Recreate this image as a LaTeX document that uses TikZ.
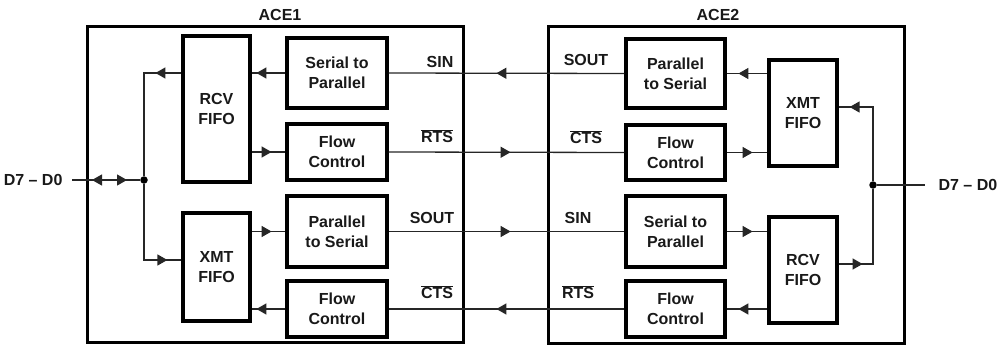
\documentclass[tikz,border=0pt]{standalone}
\usepackage{fontspec}
\setmainfont{Liberation Sans}
\usetikzlibrary{arrows.meta,decorations.markings}
\begin{document}
\begin{tikzpicture}[x=1pt,y=-1pt,
  txt/.style={font=\fontsize{16}{20}\selectfont\bfseries, text=black!90},
  blk/.style={draw, line width=3.2pt, txt, align=center, inner sep=0pt},
  ace/.style={draw, line width=3pt, inner sep=0pt},
  wire/.style={line width=1.3pt, draw=black!85},
  tri/.tip={Triangle[length=10pt,width=11pt]},
  fw/.style={postaction={decorate,decoration={markings,mark=at position #1 with {\arrow{tri}}}}},
  bw/.style={postaction={decorate,decoration={markings,mark=at position #1 with {\arrowreversed{tri}}}}},
  dot/.style={circle, fill=black, inner sep=0pt, minimum size=7.5pt}
]
\useasboundingbox (0,0) rectangle (998,345);

% ACE boxes
\node[ace, minimum width=376pt, minimum height=315pt] (ace1) at (275,184.5) {};
\node[ace, minimum width=356pt, minimum height=316pt] (ace2) at (726,185) {};
\node[txt] (l1) at (280,15) {ACE1};
\node[txt] (l2) at (718,15) {ACE2};

% ACE1 blocks
\node[blk, minimum width=67pt, minimum height=146pt] (rcv1) at (216.5,109) {RCV\\FIFO};
\node[blk, minimum width=67pt, minimum height=108pt] (xmt1) at (216.5,267) {XMT\\FIFO};
\node[blk, minimum width=100pt, minimum height=70pt] (s2p1) at (337,73) {Serial to\\Parallel};
\node[blk, minimum width=100pt, minimum height=56pt] (fc1a) at (337,152) {Flow\\Control};
\node[blk, minimum width=100pt, minimum height=71pt] (p2s1) at (337,231.5) {Parallel\\to Serial};
\node[blk, minimum width=100pt, minimum height=56pt] (fc1b) at (337,309) {Flow\\Control};

% ACE2 blocks
\node[blk, minimum width=99pt, minimum height=69pt] (p2s2) at (675.5,73.5) {Parallel\\to Serial};
\node[blk, minimum width=99pt, minimum height=55pt] (fc2a) at (675.5,152.5) {Flow\\Control};
\node[blk, minimum width=68pt, minimum height=106pt] (xmt2) at (803,113) {XMT\\FIFO};
\node[blk, minimum width=99pt, minimum height=71pt] (s2p2) at (675.5,231.5) {Serial to\\Parallel};
\node[blk, minimum width=99pt, minimum height=56pt] (fc2b) at (675.5,309) {Flow\\Control};
\node[blk, minimum width=68pt, minimum height=106pt] (rcv2) at (803,270) {RCV\\FIFO};

% data bus ACE1
\node[dot] (j1) at (144,180) {};
\coordinate (d1) at (72,180);
\node[txt, anchor=east] (dl1) at (66,180) {D7 -- D0};
\draw[wire, bw=20pt, fw=55pt] (d1) -- (j1);
\draw[wire, fw=26pt] (rcv1.west |- 0,73) -| (j1);
\draw[wire, fw=-14pt] (j1) |- (xmt1.west |- 0,260);

% ACE1 internal
\draw[wire, fw=29pt] (s2p1.west) -- (s2p1.west -| rcv1.east);
\draw[wire, fw=20pt] (rcv1.east |- fc1a.west) -- (fc1a.west);
\draw[wire, fw=20pt] (xmt1.east |- p2s1.west) -- (p2s1.west);
\draw[wire, fw=29pt] (fc1b.west) -- (fc1b.west -| xmt1.east);

% between ACEs
\draw[wire, fw=128pt] (p2s2.west) -- (s2p1.east);
\draw[wire, fw=122pt] (fc1a.east) -- (fc2a.west);
\draw[wire, fw=122pt] (p2s1.east) -- (s2p2.west);
\draw[wire, fw=128pt] (fc2b.west) -- (fc1b.east);

% ACE2 internal
\draw[wire, fw=29pt] (xmt2.west |- p2s2.east) -- (p2s2.east);
\draw[wire, fw=26pt] (fc2a.east) -- (fc2a.east -| xmt2.west);
\draw[wire, fw=26pt] (s2p2.east) -- (s2p2.east -| rcv2.west);
\draw[wire, fw=29pt] (rcv2.west |- fc2b.east) -- (fc2b.east);

% data bus ACE2
\node[dot] (j2) at (873,185) {};
\coordinate (d2) at (925,185);
\node[txt, anchor=west] (dl2) at (935,185) {D7 -- D0};
\draw[wire] (j2) -- (d2);
\draw[wire, fw=-11pt] (j2) |- (xmt2.east |- 0,107);
\draw[wire, fw=24pt] (rcv2.east |- 0,264) -| (j2);

% signal labels
\node[txt] (sin1) at (440,62) {SIN};
\node[txt] (rts1) at (437,136) {$\overline{\mbox{RTS}}$};
\node[txt] (sout1) at (432,218) {SOUT};
\node[txt] (cts1) at (437,292) {$\overline{\mbox{CTS}}$};
\node[txt] (sout2) at (586,60) {SOUT};
\node[txt] (cts2) at (586,137) {$\overline{\mbox{CTS}}$};
\node[txt] (sin2) at (578,218) {SIN};
\node[txt] (rts2) at (578,292) {$\overline{\mbox{RTS}}$};
\end{tikzpicture}
\end{document}
